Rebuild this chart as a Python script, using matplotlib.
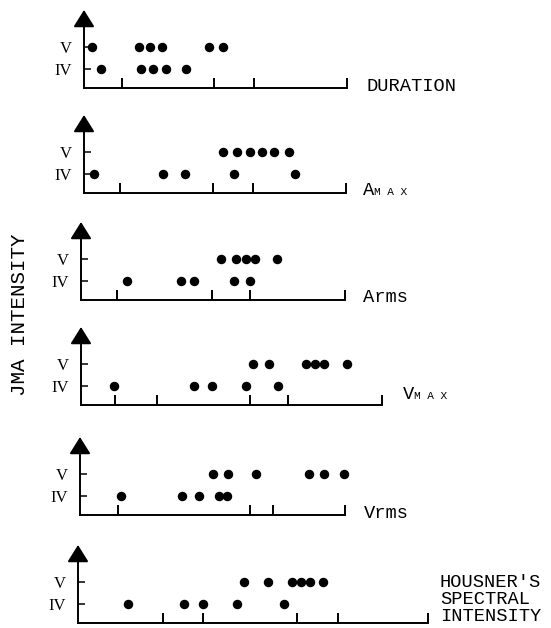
import matplotlib
matplotlib.use('Agg')
import matplotlib.pyplot as plt

levels = [4, 5]
level_labels = ['IV', 'V']

dur_v = [8, 55, 66, 78, 125, 139]
dur_iv = [17, 57, 69, 82, 102]
dur_ticks = [38, 130, 170, 263]

amax_v = [139, 153, 166, 178, 190, 205]
amax_iv = [10, 79, 101, 150, 211]
amax_ticks = [36, 129, 169, 262]

arms_v = [140, 155, 165, 174, 196]
arms_iv = [46, 100, 113, 153, 169]
arms_ticks = [36, 131, 169, 264]

vmax_v = [172, 188, 225, 234, 243, 266]
vmax_iv = [33, 113, 131, 165, 197]
vmax_ticks = [34, 76, 169, 207, 301]

vrms_v = [133, 148, 176, 229, 244, 264]
vrms_iv = [41, 102, 119, 139, 147]
vrms_ticks = [38, 170, 193, 265]

hsi_v = [166, 190, 214, 223, 232, 245]
hsi_iv = [50, 106, 125, 159, 206]
hsi_ticks = [85, 125, 219, 260, 350]

panels = [
    (dur_v, dur_iv, dur_ticks),
    (amax_v, amax_iv, amax_ticks),
    (arms_v, arms_iv, arms_ticks),
    (vmax_v, vmax_iv, vmax_ticks),
    (vrms_v, vrms_iv, vrms_ticks),
    (hsi_v, hsi_iv, hsi_ticks),
]

#Layout in pixels
W, H = 551, 628
lefts = [84, 84, 81, 81, 80, 78]
baselines = [88, 193, 300, 405, 515, 623]
ax_w = 360
ax_h = 78
y0, y1 = 3.14, 6.68

mono = 'Liberation Mono'
serif = 'Liberation Serif'

fig = plt.figure(figsize=(W / 100, H / 100), dpi=100)

axes = []
for i, (xv, xiv, ticks) in enumerate(panels):
    ax = fig.add_axes([lefts[i] / W, (H - baselines[i]) / H, ax_w / W, ax_h / H])
    ax.set_xlim(0, ax_w)
    ax.set_ylim(y0, y1)
    ax.plot(xv, [levels[1]] * len(xv), 'o', color='k', ms=5.8, clip_on=False)
    ax.plot(xiv, [levels[0]] * len(xiv), 'o', color='k', ms=5.8, clip_on=False)

    for s in ['top', 'right', 'left']:
        ax.spines[s].set_visible(False)
    ax.spines['bottom'].set_bounds(0, ticks[-1])
    ax.spines['bottom'].set_linewidth(1.4)

    #vertical axis with arrow head
    ax.annotate('', xy=(0, 1), xytext=(0, 0), xycoords='axes fraction',
                arrowprops=dict(arrowstyle='-|>,head_length=0.4,head_width=0.25',
                                lw=1.4, color='k', mutation_scale=26,
                                shrinkA=0, shrinkB=0))

    ax.set_xticks(ticks)
    ax.set_xticklabels([])
    ax.tick_params(axis='x', direction='in', length=7, width=1.4)
    ax.set_yticks(levels)
    ax.set_yticklabels(level_labels, fontfamily=serif, fontsize=12)
    ax.tick_params(axis='y', direction='in', length=5, width=1.1, pad=9, left=True)
    axes.append(ax)

#Panel names
axes[0].text(282, 3.19, 'DURATION', fontfamily=mono, fontsize=13.5,
             va='center', ha='left')
axes[1].text(279, 3.07, 'A', fontfamily=mono, fontsize=13.5,
             va='baseline', ha='left')
axes[1].text(290, 3.07, 'M A X', fontfamily=mono, fontsize=8,
             va='baseline', ha='left')
axes[2].text(282, 3.27, 'Arms', fontfamily=mono, fontsize=13.5,
             va='center', ha='left')
axes[3].text(322, 3.39, 'V', fontfamily=mono, fontsize=13.5,
             va='baseline', ha='left')
axes[3].text(333, 3.39, 'M A X', fontfamily=mono, fontsize=8,
             va='baseline', ha='left')
axes[4].text(284, 3.23, 'Vrms', fontfamily=mono, fontsize=13.5,
             va='center', ha='left')
axes[5].text(362, 4.19, "HOUSNER'S\nSPECTRAL\nINTENSITY",
             fontfamily=mono, fontsize=13.5, va='center', ha='left', linespacing=1.0)

fig.text(20 / W, 1 - 315 / H, 'JMA INTENSITY', rotation=90, fontfamily=mono,
         fontsize=15, ha='center', va='center')

plt.savefig('out.png', dpi=100)
